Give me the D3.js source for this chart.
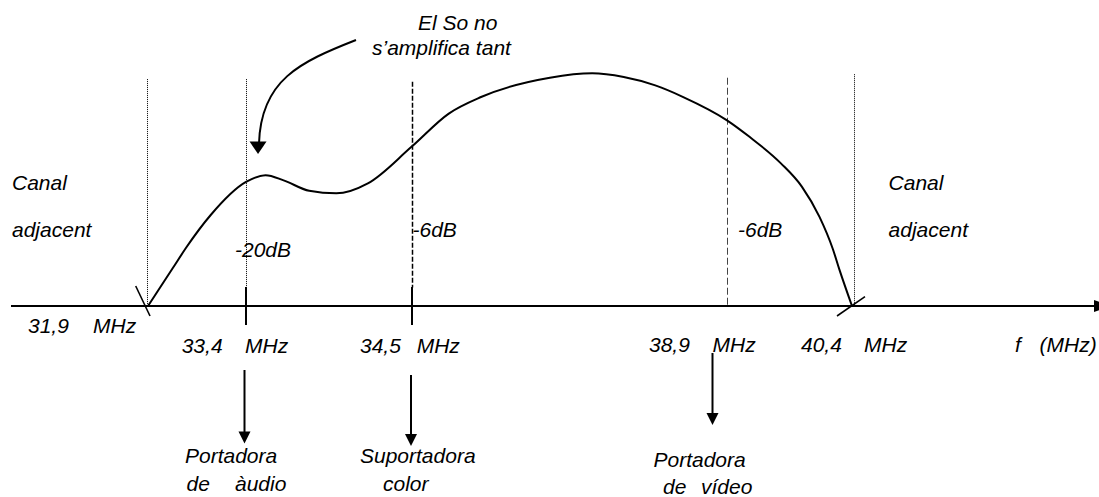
<!DOCTYPE html>
<html>
<head>
<meta charset="utf-8">
<script src="https://cdn.jsdelivr.net/npm/d3@7"></script>
<style>
  html, body { margin: 0; padding: 0; background: #fff; }
  svg { display: block; }
  text { font-family: "Liberation Sans", Arial, sans-serif; font-style: italic; font-size: 21px; fill: #000; }
</style>
</head>
<body>
<svg id="chart" width="1099" height="497"></svg>
<script>
// ---------- data ----------
const tickFreqs  = [31.9, 33.4, 34.5, 38.9, 40.4];
const tickLabels = ["31,9   MHz", "33,4   MHz", "34,5   MHz", "38,9   MHz", "40,4   MHz"];
const axisLabel  = "f   (MHz)";

// response curve (relative amplitude, 1 = maximum)
const curveFreqs  = [31.9, 32.28, 32.48, 32.86, 33.4, 33.53, 33.65, 33.82, 34.00, 34.21, 34.5,
                     35.02, 35.47, 36.43, 37.02, 37.46, 37.90, 38.29, 38.9, 39.17, 39.55,
                     39.80, 40.01, 40.17, 40.25, 40.4];
const curveLevels = [0, 0.163, 0.249, 0.391, 0.533, 0.562, 0.540, 0.495, 0.484, 0.527, 0.684,
                     0.827, 0.898, 0.981, 1.0, 0.984, 0.948, 0.898, 0.798, 0.727, 0.612,
                     0.512, 0.383, 0.245, 0.155, 0];

const dbFreqs  = [33.4, 34.5, 38.9];
const dbLabels = ["-20dB", "-6dB", "-6dB"];

const carrierFreqs  = [33.4, 34.5, 38.9];
const carrierLabels = [["Portadora", "de    àudio"], ["Suportadora", "color"], ["Portadora", "de    vídeo"]];

const sideLabel = ["Canal", "adjacent"];
const noteLines = ["El So no", "s\u2019amplifica tant"];

// ---------- layout ----------
const svg = d3.select("#chart");

// schematic (not to scale) frequency axis: piecewise-linear scale
const x = d3.scaleLinear().domain(tickFreqs).range([148, 246, 411.5, 727, 852]);
const y = d3.scaleLinear().domain([0, 1]).range([306, 73.3]);
const crisp = v => Math.round(v) + 0.5;

// helper: write a string whose words are placed at given offsets
function spacedText(sel, str, x0, y0, offsets) {
  const words = str.trim().split(/\s+/);
  const t = sel.append("text").attr("y", y0);
  words.forEach((w, k) => t.append("tspan").attr("x", x0 + (offsets[k] || 0)).text(w));
  return t;
}

// vertical marker lines
const markerStyle = [
  { dash: "1,1", width: 1, top: 0.975, bottom: 0, dx: -1 },        // 31,9
  { dash: "1,1", width: 1, top: 0.975, bottom: 0.08, dx: 0 },      // 33,4
  { dash: "5,2", width: 1.5, top: 0.964, bottom: 0.08, dx: 0 },    // 34,5
  { dash: "7,3", width: 1, top: 0.981, bottom: 0, dx: 0 },         // 38,9
  { dash: "1,1", width: 1, top: 0.996, bottom: 0, dx: 2 }          // 40,4
];
svg.append("g").selectAll("line").data(tickFreqs).join("line")
  .attr("x1", (d, i) => crisp(x(d) + markerStyle[i].dx))
  .attr("x2", (d, i) => crisp(x(d) + markerStyle[i].dx))
  .attr("y1", (d, i) => y(markerStyle[i].top))
  .attr("y2", (d, i) => y(markerStyle[i].bottom))
  .attr("stroke", (d, i) => i === 3 ? "#444" : "#000")
  .attr("stroke-width", (d, i) => markerStyle[i].width)
  .attr("stroke-dasharray", (d, i) => markerStyle[i].dash);

// axis line with arrow
const axisY = y(0);
svg.append("line")
  .attr("x1", 11).attr("x2", 1095).attr("y1", axisY).attr("y2", axisY)
  .attr("stroke", "#000").attr("stroke-width", 2);
svg.append("path")
  .attr("d", `M1094,${axisY - 6} L1112,${axisY} L1094,${axisY + 6} Z`)
  .attr("fill", "#000");

// solid ticks at audio and colour carriers
svg.append("g").selectAll("line").data([33.4, 34.5]).join("line")
  .attr("x1", d => Math.round(x(d))).attr("x2", d => Math.round(x(d)))
  .attr("y1", axisY - 19).attr("y2", axisY + 19)
  .attr("stroke", "#000").attr("stroke-width", 2);

// slash marks at channel edges
svg.append("line")
  .attr("x1", x(31.9) - 12.3).attr("y1", axisY - 20)
  .attr("x2", x(31.9) + 2).attr("y2", axisY + 10)
  .attr("stroke", "#000").attr("stroke-width", 1.6);
svg.append("line")
  .attr("x1", x(40.4) - 15).attr("y1", axisY + 10)
  .attr("x2", x(40.4) + 13).attr("y2", axisY - 9.3)
  .attr("stroke", "#000").attr("stroke-width", 1.6);

// response curve
const pts = curveFreqs.map((f, i) => [f, curveLevels[i]]);
svg.append("path")
  .datum(pts)
  .attr("d", d3.line().x(d => x(d[0])).y(d => y(d[1])).curve(d3.curveMonotoneX))
  .attr("fill", "none").attr("stroke", "#000").attr("stroke-width", 2);

// frequency tick labels (number, then "MHz")
const labelDx  = [-120, -64.3, -51.5, -78, -51];
const labelY   = [333, 353, 353, 352, 352];
const labelGap = [65, 63.3, 56.7, 63.5, 63];
tickLabels.forEach((s, i) => {
  spacedText(svg, s, x(tickFreqs[i]) + labelDx[i], labelY[i], [0, labelGap[i]]);
});
spacedText(svg, axisLabel, 1015, 352, [0, 24.5]);

// dB labels
const dbDx = [-11, 1, 11];
const dbY  = [257, 237, 237];
svg.append("g").selectAll("text").data(dbLabels).join("text")
  .attr("x", (d, i) => x(dbFreqs[i]) + dbDx[i])
  .attr("y", (d, i) => dbY[i])
  .text(d => d);

// adjacent channel labels
[12, 888.6].forEach(px => {
  svg.append("text").attr("x", px).attr("y", 190).text(sideLabel[0]);
  svg.append("text").attr("x", px).attr("y", 237).text(sideLabel[1]);
});

// carrier arrows + labels
const arrowGeom = [
  { dx: -1.5, top: 370, tip: 443.5 },
  { dx: -0.5, top: 375, tip: 446 },
  { dx: -14.5, top: 353, tip: 425 }
];
const g = svg.append("g");
carrierFreqs.forEach((f, i) => {
  const ax = x(f) + arrowGeom[i].dx, a = arrowGeom[i];
  g.append("line").attr("x1", ax).attr("x2", ax).attr("y1", a.top).attr("y2", a.tip - 10)
    .attr("stroke", "#000").attr("stroke-width", 2);
  g.append("path").attr("d", `M${ax - 6},${a.tip - 12} L${ax + 6},${a.tip - 12} L${ax},${a.tip} Z`)
    .attr("fill", "#000");
});
const carrierPos = [
  [[185, 463, 0], [186.5, 491, 48.5]],
  [[360, 463, 0], [383, 491, 0]],
  [[653.5, 467, 0], [663, 494, 38]]
];
carrierLabels.forEach((lines, i) => {
  lines.forEach((t, j) => {
    const p = carrierPos[i][j];
    spacedText(svg, t, p[0], p[1], [0, p[2]]);
  });
});

// annotation: "El So no s'amplifica tant"
svg.append("text").attr("x", 418).attr("y", 30).text(noteLines[0]);
svg.append("text").attr("x", 372).attr("y", 55).text(noteLines[1]);
const tipX = x(33.48), tipY = 154;
svg.append("path")
  .attr("d", `M356,40 C300,62 ${tipX + 3},80 ${tipX + 1},${tipY - 11}`)
  .attr("fill", "none").attr("stroke", "#000").attr("stroke-width", 2);
svg.append("path")
  .attr("d", `M${tipX - 8.5},${tipY - 12.5} L${tipX + 8.5},${tipY - 12.5} L${tipX},${tipY} Z`)
  .attr("fill", "#000");
</script>
</body>
</html>
